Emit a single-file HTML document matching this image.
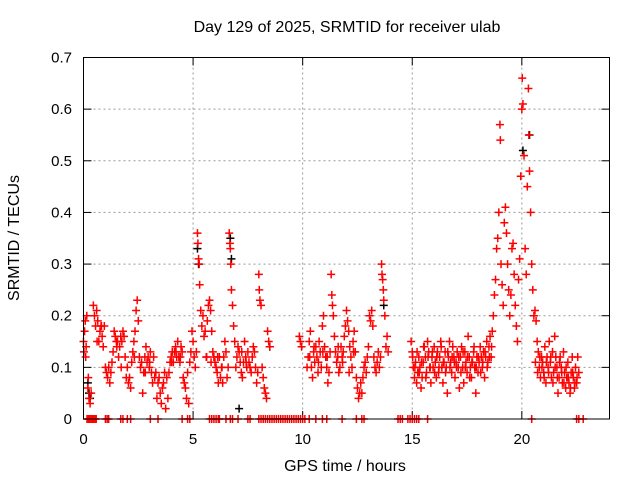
<!DOCTYPE html>
<html><head><meta charset="utf-8"><style>
body{margin:0;background:#fff}
svg{display:block;font-family:"Liberation Sans",sans-serif}
</style></head><body>
<svg id="chart" width="640" height="480" viewBox="0 0 640 480">
<text x="347" y="32" font-size="16" text-anchor="middle">Day 129 of 2025, SRMTID for receiver ulab</text>
<text x="345" y="471" font-size="16" text-anchor="middle">GPS time / hours</text>
<text x="19" y="238" font-size="16" text-anchor="middle" transform="rotate(-90 19 238)">SRMTID / TECUs</text>
<g id="grid"></g>
<g id="ticks"></g>
<g id="blackPts"></g>
<g id="redPts"></g>
<rect x="83.5" y="57.5" width="526" height="361.5" fill="none" stroke="#000" stroke-width="1"/>
</svg>
<script>
const xTicks=[0,5,10,15,20];
const yTicks=[0,0.1,0.2,0.3,0.4,0.5,0.6,0.7];
const yTickLabels=["0","0.1","0.2","0.3","0.4","0.5","0.6","0.7"];
const redT=[0,0.02,0.05,0.08,0.1,0.12,0.15,0.2,0.22,0.25,0.3,0.35,0.45,0.5,0.55,0.6,0.65,0.7,0.75,0.8,0.85,0.9,0.95,1,1.05,1.1,1.15,1.2,1.25,1.3,1.35,1.4,1.45,1.5,1.55,1.6,1.65,1.7,1.75,1.8,1.85,1.9,1.95,2,2.05,2.1,2.15,2.2,2.25,2.3,2.35,2.4,2.45,2.5,2.55,2.6,2.65,2.7,2.75,2.8,2.85,2.9,2.95,3,3.05,3.1,3.15,3.2,3.25,3.3,3.35,3.4,3.45,3.5,3.55,3.6,3.65,3.7,3.75,3.8,3.85,3.9,3.95,4,4.05,4.1,4.15,4.2,4.25,4.3,4.35,4.4,4.45,4.5,4.55,4.6,4.65,4.7,4.75,4.8,4.85,4.9,4.95,5,5.05,5.1,5.15,5.2,5.22,5.25,5.28,5.3,5.35,5.4,5.45,5.5,5.55,5.6,5.65,5.7,5.75,5.8,5.85,5.9,5.95,6,6.05,6.1,6.15,6.2,6.25,6.3,6.35,6.4,6.45,6.5,6.55,6.6,6.65,6.68,6.7,6.72,6.75,6.8,6.85,6.9,6.95,7,7.05,7.1,7.15,7.2,7.25,7.3,7.35,7.4,7.45,7.5,7.55,7.6,7.65,7.7,7.75,7.8,7.85,7.9,7.95,8,8.02,8.05,8.1,8.15,8.2,8.25,8.3,8.35,8.4,8.45,8.5,9.85,9.9,9.95,10.2,10.25,10.3,10.35,10.4,10.45,10.5,10.55,10.6,10.65,10.7,10.75,10.8,10.85,10.9,10.95,11,11.05,11.1,11.15,11.2,11.25,11.3,11.33,11.36,11.4,11.45,11.5,11.55,11.6,11.65,11.7,11.75,11.8,11.85,11.9,11.95,12,12.05,12.1,12.15,12.2,12.25,12.3,12.35,12.4,12.45,12.5,12.55,12.6,12.65,12.7,12.75,12.8,12.85,12.9,12.95,13,13.05,13.1,13.15,13.2,13.25,13.3,13.35,13.4,13.45,13.5,13.55,13.6,13.62,13.65,13.68,13.7,13.75,13.8,13.85,13.9,14.95,15,15.05,15.1,15.15,15.2,15.25,15.3,15.35,15.4,15.45,15.5,15.55,15.6,15.65,15.7,15.75,15.8,15.85,15.9,15.95,16,16.05,16.1,16.15,16.2,16.25,16.3,16.35,16.4,16.45,16.5,16.55,16.6,16.65,16.7,16.75,16.8,16.85,16.9,16.95,17,17.05,17.1,17.15,17.2,17.25,17.3,17.35,17.4,17.45,17.5,17.55,17.6,17.65,17.7,17.75,17.8,17.85,17.9,17.95,18,18.05,18.1,18.15,18.2,18.25,18.3,18.35,18.4,18.45,18.5,18.55,18.6,18.65,18.7,18.75,18.8,18.85,18.9,18.95,19,19.02,19.05,19.1,19.15,19.2,19.25,19.3,19.35,19.4,19.45,19.5,19.55,19.6,19.65,19.7,19.75,19.8,19.85,19.9,19.95,20,20.02,20.05,20.1,20.15,20.2,20.25,20.3,20.32,20.35,20.4,20.45,20.5,20.55,20.6,20.65,20.7,20.75,20.8,20.85,20.9,20.95,21,21.05,21.1,21.15,21.2,21.25,21.3,21.35,21.4,21.45,21.5,21.55,21.6,21.65,21.7,21.75,21.8,21.85,21.9,21.95,22,22.05,22.1,22.15,22.2,22.25,22.3,22.35,22.4,22.45,22.5,22.55,22.6,
15.02,15.12,15.22,15.32,15.42,15.52,15.62,15.72,15.82,15.92,16.02,16.12,16.22,16.32,16.42,16.52,16.62,16.72,16.82,16.92,17.02,17.12,17.22,17.32,17.42,17.52,17.62,17.72,17.82,17.92,18.02,18.12,18.22,18.32,18.42,18.52,18.62,20.62,20.72,20.82,20.92,21.02,21.12,21.22,21.32,21.42,21.52,21.62,21.72,21.82,21.92,22.02,22.12,22.22,22.32,22.42,22.52,10.32,10.52,10.72,10.92,11.12,11.62,11.82,12.12,12.32,4.02,4.22,4.42,1.52,1.72,2.32,2.82,3.02,0.62,0.82,5.62,5.82,6.12,6.32,7.22,7.42,7.62];
const redV=[0.15,0.13,0.17,0.19,0.12,0.14,0.2,0.06,0.08,0.04,0.03,0.05,0.22,0.2,0.18,0.21,0.19,0.15,0.17,0.18,0.16,0.14,0.18,0.1,0.09,0.08,0.1,0.07,0.09,0.11,0.13,0.17,0.16,0.15,0.15,0.12,0.14,0.16,0.15,0.17,0.16,0.12,0.08,0.1,0.07,0.08,0.06,0.11,0.13,0.15,0.17,0.21,0.23,0.19,0.12,0.1,0.11,0.05,0.09,0.12,0.14,0.11,0.12,0.1,0.13,0.09,0.07,0.12,0.08,0.09,0.04,0.07,0.08,0.05,0.03,0.06,0.07,0.09,0.02,0.08,0.04,0.09,0.11,0.12,0.13,0.11,0.13,0.14,0.12,0.15,0.12,0.11,0.14,0.13,0.08,0.07,0.06,0.04,0.09,0.03,0.11,0.13,0.17,0.15,0.12,0.1,0.13,0.36,0.34,0.31,0.3,0.26,0.21,0.18,0.2,0.16,0.17,0.12,0.19,0.22,0.23,0.21,0.17,0.13,0.12,0.11,0.1,0.09,0.07,0.12,0.08,0.1,0.07,0.12,0.15,0.13,0.08,0.1,0.36,0.34,0.33,0.3,0.25,0.22,0.18,0.15,0.1,0.12,0.14,0.13,0.11,0.09,0.08,0.11,0.15,0.12,0.1,0.13,0.11,0.1,0.09,0.12,0.14,0.13,0.1,0.07,0.09,0.28,0.25,0.23,0.22,0.1,0.08,0.06,0.05,0.04,0.17,0.15,0.14,0.16,0.15,0.14,0.1,0.12,0.15,0.17,0.1,0.08,0.13,0.11,0.14,0.12,0.09,0.15,0.13,0.1,0.18,0.2,0.14,0.12,0.1,0.07,0.09,0.13,0.28,0.24,0.22,0.2,0.16,0.13,0.11,0.12,0.09,0.1,0.14,0.12,0.13,0.16,0.18,0.21,0.19,0.17,0.14,0.12,0.1,0.15,0.17,0.13,0.08,0.06,0.04,0.05,0.07,0.05,0.08,0.1,0.11,0.09,0.12,0.14,0.2,0.19,0.21,0.18,0.12,0.1,0.09,0.11,0.13,0.1,0.12,0.3,0.28,0.27,0.25,0.23,0.2,0.14,0.16,0.13,0.15,0.13,0.1,0.08,0.11,0.07,0.09,0.12,0.1,0.06,0.08,0.11,0.14,0.12,0.09,0.15,0.13,0.1,0.07,0.12,0.1,0.14,0.11,0.08,0.13,0.09,0.12,0.15,0.1,0.07,0.11,0.13,0.1,0.05,0.12,0.15,0.11,0.09,0.14,0.12,0.08,0.11,0.13,0.1,0.06,0.12,0.14,0.1,0.07,0.13,0.11,0.09,0.16,0.12,0.1,0.08,0.11,0.13,0.1,0.05,0.12,0.09,0.11,0.14,0.12,0.1,0.13,0.08,0.12,0.15,0.11,0.14,0.16,0.12,0.17,0.2,0.24,0.27,0.33,0.35,0.4,0.57,0.54,0.3,0.26,0.22,0.38,0.41,0.36,0.3,0.25,0.2,0.24,0.33,0.34,0.28,0.22,0.18,0.15,0.27,0.31,0.47,0.6,0.66,0.61,0.51,0.33,0.28,0.45,0.64,0.55,0.48,0.4,0.3,0.25,0.2,0.21,0.19,0.15,0.13,0.1,0.08,0.12,0.11,0.09,0.14,0.07,0.12,0.1,0.15,0.11,0.08,0.13,0.09,0.16,0.12,0.1,0.05,0.08,0.12,0.1,0.07,0.13,0.09,0.06,0.08,0.11,0.07,0.05,0.09,0.12,0.08,0.06,0.1,0.07,0.12,0.09,
0.12,0.1,0.13,0.09,0.11,0.14,0.08,0.12,0.1,0.13,0.09,0.12,0.1,0.14,0.11,0.09,0.13,0.1,0.12,0.11,0.1,0.12,0.09,0.13,0.1,0.12,0.08,0.11,0.14,0.1,0.12,0.09,0.11,0.13,0.1,0.12,0.14,0.11,0.09,0.12,0.1,0.08,0.11,0.09,0.12,0.07,0.1,0.08,0.11,0.09,0.07,0.1,0.08,0.06,0.09,0.07,0.08,0.12,0.14,0.11,0.13,0.12,0.14,0.11,0.09,0.13,0.11,0.13,0.12,0.14,0.1,0.12,0.09,0.11,0.15,0.18,0.12,0.11,0.12,0.1,0.13,0.11];
const zeroT=[0.16,0.22,0.28,0.34,0.4,0.46,0.52,0.58,1.0,1.08,1.15,1.7,1.8,2.0,2.15,3.05,3.4,4.5,4.75,4.85,5.75,5.85,5.95,6.05,6.15,6.2,6.5,6.7,6.8,7.05,7.5,7.6,8.0,8.1,8.2,8.3,8.4,8.5,8.6,8.7,8.8,8.9,9.0,9.1,9.2,9.3,9.4,9.5,9.6,9.7,9.8,9.9,10.0,10.1,10.3,10.6,10.9,11.1,11.8,12.45,12.7,12.8,14.35,14.45,14.55,14.8,14.9,15.0,15.1,15.2,15.3,15.7,20.45,22.5,22.6,22.8];
const blackT=[0.2,0.25,0.3,5.2,5.25,6.7,6.75,7.1,20.05,20.35,8.5,13.7];
const blackV=[0.07,0.05,0.04,0.33,0.3,0.35,0.31,0.02,0.52,0.55,0.14,0.22];

const X0=83.5,X1=609.5,Y0=419,Y1=57.5;
function sx(t){return X0+(t/24)*(X1-X0);}
function sy(v){return Y0-(v/0.7)*(Y0-Y1);}
const NS="http://www.w3.org/2000/svg";
function mk(tag,parent){const e=document.createElementNS(NS,tag);parent.appendChild(e);return e;}
const grid=document.getElementById('grid'),ticks=document.getElementById('ticks');
xTicks.forEach((t,i)=>{
  const x=sx(t);
  if(t>0){const g=mk('line',grid);
    
    
    g.setAttribute('x1',x);g.setAttribute('x2',x);g.setAttribute('y1',Y1);g.setAttribute('y2',Y0);
    g.setAttribute('stroke','#999');g.setAttribute('stroke-dasharray','2,3');}
  [[Y0,Y0-8],[Y1,Y1+8]].forEach(p=>{const l=mk('line',ticks);l.setAttribute('x1',x);l.setAttribute('x2',x);l.setAttribute('y1',p[0]);l.setAttribute('y2',p[1]);l.setAttribute('stroke','#000');});
  const tx=mk('text',ticks);
  
  
  tx.setAttribute('x',x);tx.setAttribute('y',444);tx.setAttribute('font-size','15');tx.setAttribute('text-anchor','middle');tx.textContent=String(t);
});
yTicks.forEach((v,i)=>{
  const y=sy(v);
  if(v>0&&v<0.7){const g=mk('line',grid);
    
    
    g.setAttribute('x1',X0);g.setAttribute('x2',X1);g.setAttribute('y1',y);g.setAttribute('y2',y);
    g.setAttribute('stroke','#999');g.setAttribute('stroke-dasharray','2,3');}
  [[X0,X0+8],[X1,X1-8]].forEach(p=>{const l=mk('line',ticks);l.setAttribute('x1',p[0]);l.setAttribute('x2',p[1]);l.setAttribute('y1',y);l.setAttribute('y2',y);l.setAttribute('stroke','#000');});
  const tx=mk('text',ticks);
  
  
  tx.setAttribute('x',72);tx.setAttribute('y',y+5);tx.setAttribute('font-size','15');tx.setAttribute('text-anchor','end');tx.textContent=yTickLabels[i];
});
function plus(parent,t,v,color){
  const x=sx(t),y=sy(v);
  const p=mk('path',parent);
  
  
  p.setAttribute('d','M'+(x-4)+' '+y+'H'+(x+4)+'M'+x+' '+(y-4)+'V'+(y+4));
  p.setAttribute('stroke',color);p.setAttribute('stroke-width','1.5');p.setAttribute('fill','none');
}
const bg=document.getElementById('blackPts'),rg=document.getElementById('redPts');
blackT.forEach((t,i)=>plus(bg,t,blackV[i],'#000'));
redT.forEach((t,i)=>plus(rg,t,redV[i],'#f00'));
zeroT.forEach(t=>plus(rg,t,0,'#f00'));
</script>
</body></html>
